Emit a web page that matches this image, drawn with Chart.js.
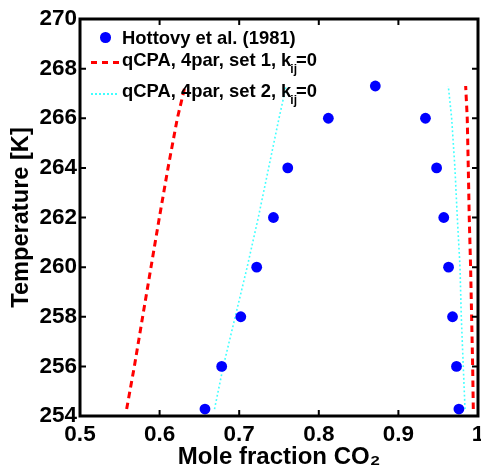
<!DOCTYPE html>
<html>
<head>
<meta charset="utf-8">
<script src="https://cdn.jsdelivr.net/npm/chart.js@4.4.0/dist/chart.umd.min.js"></script>
<style>
    html, body { margin: 0; padding: 0; background: #fff; }
    #wrap { position: relative; width: 481px; height: 474px; }
    #c { display: block; }
    #legend { position: absolute; left: 0; top: 0; font-family: 'Liberation Sans', Arial, sans-serif; font-weight: bold; font-size: 18.4px; line-height: 18.4px; color: #000; pointer-events: none; }
    .entry { position: absolute; left: 122px; white-space: nowrap; }
    .sub { font-size: 12px; line-height: 0; position: relative; top: 7px; margin-left: -1px; margin-right: -1px; }
    .sym { position: absolute; }
</style>
</head>
<body>
<div id="wrap">
    <canvas id="c" width="481" height="474"></canvas>
    <div id="legend">
        <div class="sym" style="left:100px;top:32.4px;width:10.6px;height:10.6px;border-radius:50%;background:#0000ff;"></div>
        <div class="entry" style="top:28.7px;">Hottovy et al. (1981)</div>
        <div class="sym" style="left:91px;top:61.2px;width:28px;height:3px;background:repeating-linear-gradient(to right,#ff0000 0 6px,transparent 6px 11px);"></div>
        <div class="entry" style="top:51.1px;">qCPA, 4par, set 1, k<span class="sub">ij</span>=0</div>
        <div class="sym" style="left:91px;top:93.3px;width:26px;height:2px;background:repeating-linear-gradient(to right,#40ffff 0 2px,transparent 2px 4px);"></div>
        <div class="entry" style="top:82.1px;">qCPA, 4par, set 2, k<span class="sub">ij</span>=0</div>
    </div>
</div>
<script>
    // Hottovy et al. (1981) experimental points
    var hottovyX = [0.657, 0.678, 0.702, 0.722, 0.743, 0.761, 0.812, 0.871, 0.934, 0.948, 0.957, 0.963, 0.968, 0.973, 0.976];
    var hottovyT = [254.28, 256, 258, 260, 262, 264, 266, 267.3, 266, 264, 262, 260, 258, 256, 254.28];

    // model curves, read at the same temperatures
    var curveT = [254.28, 256, 258, 260, 262, 264, 266, 267.3];
    var set1LeftX = [0.5586, 0.5683, 0.5787, 0.5892, 0.5997, 0.6106, 0.6223, 0.632];
    var set1RightX = [0.9941, 0.9933, 0.992, 0.9907, 0.989, 0.9878, 0.9865, 0.9845];
    var set2LeftX = [0.669, 0.680, 0.695, 0.710, 0.724, 0.737, 0.750, 0.759];
    var set2RightX = [0.9837, 0.9815, 0.979, 0.9774, 0.974, 0.971, 0.9669, 0.9627];

    var xTicks = [0.5, 0.6, 0.7, 0.8, 0.9, 1];
    var xTickLabels = ['0.5', '0.6', '0.7', '0.8', '0.9', '1'];
    var yTicks = [254, 256, 258, 260, 262, 264, 266, 268, 270];
    var yTickLabels = ['254', '256', '258', '260', '262', '264', '266', '268', '270'];

    var pairs = function (xs, ys) {
        var out = [];
        for (var i = 0; i < xs.length; i++) {
            out.push({ x: xs[i], y: ys[i] });
        }
        return out;
    };

    var fontFamily = "'Liberation Sans', Arial, sans-serif";

    var lineSet = function (xs, color, width, dash) {
        return {
            data: pairs(xs, curveT),
            showLine: true,
            borderColor: color,
            borderWidth: width,
            borderDash: dash,
            pointRadius: 0,
            fill: false
        };
    };

    var noPadding = function () {
        return { left: 0, top: 0, right: 0, bottom: 0 };
    };

    // box round the plot with inward ticks on all four sides
    var frameBox = {
        id: 'frameBox',
        afterDatasetsDraw: function (chart) {
            var ctx = chart.ctx;
            var a = chart.chartArea;
            var xs = chart.scales.x;
            var ys = chart.scales.y;
            ctx.save();
            ctx.strokeStyle = '#000';
            ctx.lineWidth = 2;
            ctx.beginPath();
            xs.ticks.forEach(function (t) {
                var px = xs.getPixelForValue(t.value);
                ctx.moveTo(px, a.bottom);
                ctx.lineTo(px, a.bottom - 6);
                ctx.moveTo(px, a.top);
                ctx.lineTo(px, a.top + 6);
            });
            ys.ticks.forEach(function (t) {
                var py = ys.getPixelForValue(t.value);
                ctx.moveTo(a.left, py);
                ctx.lineTo(a.left + 6, py);
                ctx.moveTo(a.right, py);
                ctx.lineTo(a.right - 6, py);
            });
            ctx.stroke();
            ctx.lineWidth = 3;
            ctx.strokeRect(a.left, a.top, a.right - a.left, a.bottom - a.top);
            ctx.restore();
        }
    };

    Chart.defaults.color = '#000';

    new Chart(document.getElementById('c'), {
        type: 'scatter',
        data: {
            datasets: [
                {
                    data: pairs(hottovyX, hottovyT),
                    backgroundColor: '#0000ff',
                    borderWidth: 0,
                    pointRadius: 5.4,
                    showLine: false
                },
                lineSet(set1LeftX, '#ff0000', 3, [6.5, 4.5]),
                lineSet(set1RightX, '#ff0000', 3, [6.5, 4.5]),
                lineSet(set2LeftX, '#40ffff', 1.6, [1.8, 2.4]),
                lineSet(set2RightX, '#40ffff', 1.6, [1.8, 2.4])
            ]
        },
        options: {
            responsive: false,
            animation: false,
            devicePixelRatio: 1,
            layout: {
                autoPadding: false,
                padding: { top: 19, right: 3, left: 0, bottom: 0 }
            },
            plugins: {
                legend: { display: false },
                tooltip: { enabled: false }
            },
            scales: {
                x: {
                    type: 'linear',
                    min: 0.5,
                    max: 1,
                    afterFit: function (scale) {
                        scale.height = 58;
                        scale.paddingLeft = 0;
                        scale.paddingRight = 0;
                        scale.getPadding = noPadding;
                    },
                    afterBuildTicks: function (scale) {
                        scale.ticks = xTicks.map(function (v) { return { value: v }; });
                    },
                    grid: { display: false, drawTicks: false },
                    border: { display: false },
                    ticks: {
                        padding: 5,
                        maxRotation: 0,
                        autoSkip: false,
                        font: { family: fontFamily, size: 22.5, weight: 'bold' },
                        callback: function (v, i) { return xTickLabels[i]; }
                    },
                    title: {
                        display: true,
                        text: 'Mole fraction CO\u2082',
                        font: { family: fontFamily, size: 24, weight: 'bold' },
                        padding: { top: 0, bottom: 2 }
                    }
                },
                y: {
                    type: 'linear',
                    min: 254,
                    max: 270,
                    afterFit: function (scale) {
                        scale.width = 80;
                        scale.paddingTop = 0;
                        scale.paddingBottom = 0;
                        scale.getPadding = noPadding;
                    },
                    afterBuildTicks: function (scale) {
                        scale.ticks = yTicks.map(function (v) { return { value: v }; });
                    },
                    grid: { display: false, drawTicks: false },
                    border: { display: false },
                    ticks: {
                        padding: 3,
                        autoSkip: false,
                        font: { family: fontFamily, size: 22.5, weight: 'bold' },
                        callback: function (v, i) { return yTickLabels[i]; }
                    },
                    title: {
                        display: true,
                        text: 'Temperature [K]',
                        font: { family: fontFamily, size: 23.6, weight: 'bold' },
                        padding: { top: 7, bottom: 0 }
                    }
                }
            }
        },
        plugins: [frameBox]
    });
</script>
</body>
</html>
